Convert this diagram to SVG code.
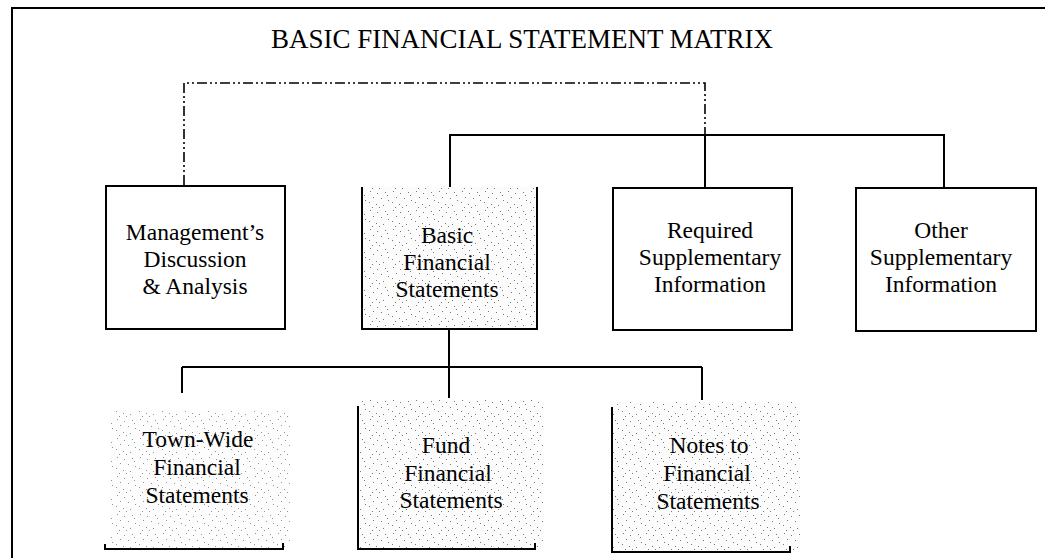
<svg xmlns="http://www.w3.org/2000/svg" width="1045" height="558" viewBox="0 0 1045 558">
<defs>
<pattern id="stip" width="23" height="19" patternUnits="userSpaceOnUse">
<rect width="23" height="19" fill="#fcfcfc"/>
<g fill="#777">
<rect x="2" y="1" width="1" height="1"/><rect x="9" y="3" width="1" height="1"/><rect x="17" y="2" width="1" height="1"/>
<rect x="5" y="7" width="1" height="1"/><rect x="13" y="8" width="1" height="1"/><rect x="20" y="10" width="1" height="1"/>
<rect x="1" y="12" width="1" height="1"/><rect x="8" y="14" width="1" height="1"/><rect x="15" y="15" width="1" height="1"/>
<rect x="11" y="17" width="1" height="1"/><rect x="4" y="17" width="1" height="1"/><rect x="19" y="5" width="1" height="1"/>
</g>
</pattern>
<style>
.box{fill:#fff;stroke:#000;stroke-width:2}
.ln{fill:none;stroke:#000;stroke-width:2}
.dd{fill:none;stroke:#000;stroke-width:1.6;stroke-dasharray:10 3 2 3 2 3}
.t{font-family:"Liberation Serif","Times New Roman",serif;font-size:23.5px;fill:#000;text-anchor:middle}
.ttl{font-family:"Liberation Serif","Times New Roman",serif;font-size:28px;fill:#000;text-anchor:middle}
.sh{fill:url(#stip)}
</style>
</defs>
<rect width="1045" height="558" fill="#fff"/>
<path class="ln" d="M12,558 V8 H1045"/>
<text class="ttl" x="522" y="48" textLength="502" lengthAdjust="spacingAndGlyphs">BASIC FINANCIAL STATEMENT MATRIX</text>
<g id="connectors">
<path class="dd" d="M184,185 V83 H705 V135"/>
<path class="ln" d="M705,188 V135"/>
<path class="ln" d="M450,187 V135 H944 V188"/>
<path class="ln" d="M449,329 V367"/>
<path class="ln" d="M182,367 H702"/>
<path class="ln" d="M182,367 V393"/>
<path class="ln" d="M449,367 V398"/>
<path class="ln" d="M702,367 V400"/>
</g>
<g id="mda">
<rect class="box" x="106" y="186" width="179" height="143"/>
<text class="t" x="195" y="240">Management’s</text>
<text class="t" x="195" y="267">Discussion</text>
<text class="t" x="195" y="294">&amp; Analysis</text>
</g>
<g id="bfs">
<rect class="sh" x="362" y="187" width="175" height="142"/>
<path class="ln" d="M362,187 V329 H537 V187"/>
<text class="t" x="447" y="243">Basic</text>
<text class="t" x="447" y="270">Financial</text>
<text class="t" x="447" y="297">Statements</text>
</g>
<g id="rsi">
<rect class="box" x="613" y="188" width="179" height="142"/>
<text class="t" x="710" y="238">Required</text>
<text class="t" x="710" y="265">Supplementary</text>
<text class="t" x="710" y="292">Information</text>
</g>
<g id="osi">
<rect class="box" x="856" y="188" width="180" height="143"/>
<text class="t" x="941" y="238">Other</text>
<text class="t" x="941" y="265">Supplementary</text>
<text class="t" x="941" y="292">Information</text>
</g>
<g id="twfs">
<rect class="sh" x="110" y="410" width="180" height="138" opacity="0.8"/>
<path class="ln" d="M105,544 V549 H283 V543"/>
<text class="t" x="198" y="447">Town-Wide</text>
<text class="t" x="197" y="475">Financial</text>
<text class="t" x="197" y="503">Statements</text>
</g>
<g id="ffs">
<rect class="sh" x="358" y="400" width="186" height="149"/>
<path class="ln" d="M358,406 V549 H535 V543"/>
<text class="t" x="446" y="453">Fund</text>
<text class="t" x="448" y="481">Financial</text>
<text class="t" x="451" y="508">Statements</text>
</g>
<g id="nfs">
<rect class="sh" x="612" y="402" width="188" height="150"/>
<path class="ln" d="M612,407 V552 H790 V546"/>
<text class="t" x="709" y="453">Notes to</text>
<text class="t" x="707" y="481">Financial</text>
<text class="t" x="708" y="509">Statements</text>
</g>
</svg>
